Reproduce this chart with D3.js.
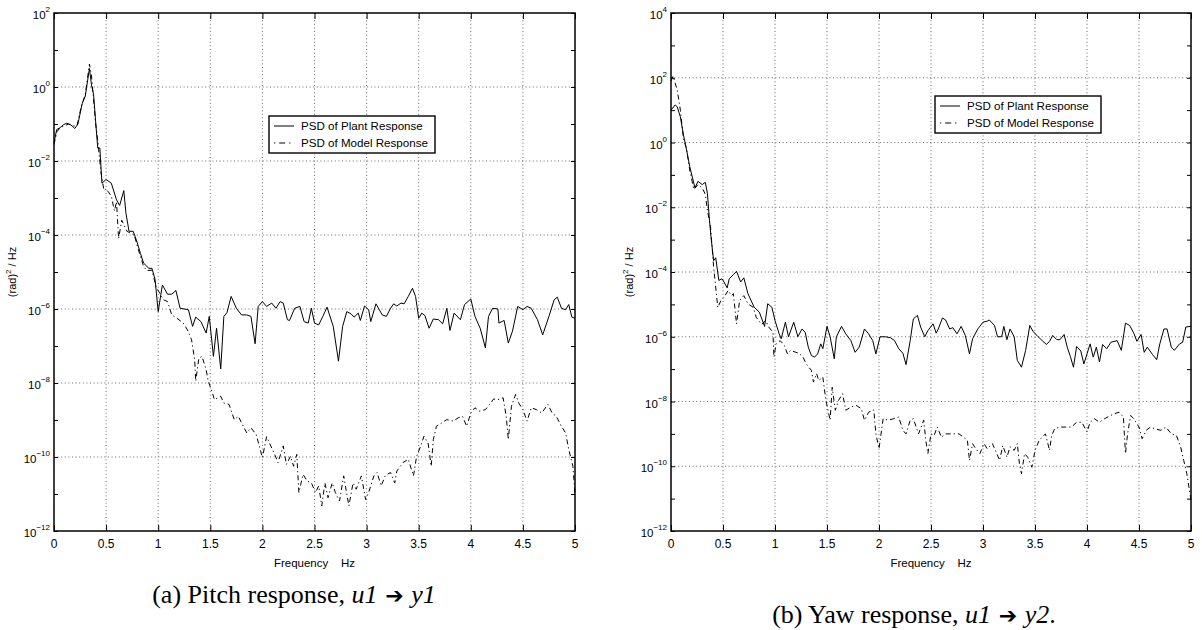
<!DOCTYPE html>
<html>
<head>
<meta charset="utf-8">
<script src="https://cdn.jsdelivr.net/npm/d3@7"></script>
<style>
  body { margin: 0; background: #fff; }
  svg text { font-family: "Liberation Sans", Arial, sans-serif; fill: #000; }
  .cap { font-family: "Liberation Serif", "Times New Roman", serif; }
</style>
</head>
<body>
<svg id="fig" width="1202" height="630"></svg>
<script>
// values, stored as [frequency Hz, log10 of PSD]
const pitchPlant = [[0,-1.5],[0.026,-1.15],[0.058,-1.1],[0.09,-1.02],[0.12,-0.98],[0.16,-1.02],[0.2,-1.12],[0.23,-1.0],[0.27,-0.45],[0.3,-0.25],[0.34,0.5],[0.36,0.05],[0.38,-0.2],[0.4,-0.95],[0.42,-1.65],[0.44,-1.65],[0.46,-2.6],[0.5,-2.5],[0.55,-2.6],[0.6,-3.05],[0.63,-3.2],[0.67,-2.8],[0.69,-3.4],[0.72,-3.9],[0.76,-3.9],[0.79,-4.13],[0.83,-4.5],[0.86,-4.76],[0.91,-4.9],[0.94,-4.9],[0.97,-5.2],[1.0,-6.07],[1.04,-5.35],[1.09,-5.6],[1.13,-5.6],[1.17,-5.5],[1.21,-5.98],[1.25,-6.0],[1.29,-6.02],[1.33,-6.47],[1.36,-6.22],[1.41,-6.34],[1.46,-6.65],[1.49,-6.2],[1.53,-7.28],[1.56,-6.52],[1.6,-7.62],[1.63,-6.2],[1.66,-6.1],[1.7,-5.66],[1.75,-5.98],[1.8,-6.16],[1.85,-6.16],[1.89,-6.2],[1.93,-6.94],[1.96,-5.93],[2.0,-5.8],[2.04,-5.93],[2.09,-5.84],[2.13,-5.98],[2.17,-5.8],[2.2,-5.84],[2.24,-6.29],[2.26,-6.31],[2.31,-5.98],[2.36,-5.93],[2.4,-6.34],[2.44,-6.38],[2.47,-5.98],[2.5,-6.38],[2.54,-6.43],[2.58,-6.2],[2.62,-5.95],[2.68,-6.47],[2.73,-7.41],[2.77,-6.47],[2.81,-6.07],[2.85,-6.13],[2.88,-6.22],[2.92,-6.11],[2.94,-6.31],[2.98,-5.92],[3.02,-6.02],[3.04,-6.34],[3.09,-5.86],[3.15,-6.16],[3.19,-6.2],[3.23,-5.98],[3.26,-5.86],[3.29,-5.92],[3.33,-5.84],[3.36,-5.86],[3.4,-5.66],[3.44,-5.44],[3.47,-5.66],[3.5,-6.25],[3.53,-6.11],[3.56,-6.18],[3.6,-6.52],[3.64,-6.27],[3.69,-6.29],[3.73,-6.4],[3.77,-5.98],[3.8,-6.58],[3.84,-6.11],[3.9,-6.29],[3.94,-5.88],[4.0,-5.73],[4.04,-6.2],[4.09,-6.52],[4.14,-7.05],[4.17,-6.2],[4.21,-5.98],[4.26,-6.0],[4.27,-6.38],[4.32,-6.31],[4.36,-6.92],[4.4,-6.6],[4.45,-5.93],[4.5,-6.02],[4.54,-5.93],[4.58,-5.98],[4.64,-6.29],[4.69,-6.7],[4.75,-6.2],[4.8,-5.75],[4.83,-5.68],[4.87,-5.98],[4.91,-6.02],[4.94,-5.88],[4.97,-6.22],[5.0,-6.25]];

const pitchModel = [[0,-1.55],[0.03,-1.2],[0.06,-1.1],[0.1,-1.05],[0.14,-1.0],[0.18,-1.05],[0.22,-1.05],[0.26,-0.55],[0.3,-0.2],[0.34,0.62],[0.36,0.3],[0.38,-0.35],[0.4,-1.0],[0.42,-1.45],[0.45,-2.3],[0.48,-2.8],[0.5,-2.75],[0.55,-2.95],[0.58,-3.35],[0.6,-3.1],[0.62,-4.1],[0.65,-3.6],[0.7,-3.9],[0.77,-4.0],[0.81,-4.4],[0.86,-4.85],[0.89,-4.96],[0.94,-4.95],[0.98,-5.4],[1.05,-5.75],[1.09,-5.8],[1.13,-6.16],[1.18,-6.25],[1.24,-6.38],[1.28,-6.56],[1.32,-6.83],[1.35,-7.37],[1.36,-7.95],[1.39,-7.33],[1.42,-7.28],[1.46,-7.64],[1.48,-7.95],[1.51,-8.18],[1.54,-8.45],[1.6,-8.36],[1.63,-8.54],[1.68,-8.58],[1.73,-8.99],[1.77,-8.9],[1.8,-9.08],[1.85,-9.35],[1.89,-9.21],[1.94,-9.39],[1.97,-9.7],[2.0,-10.02],[2.04,-9.45],[2.08,-9.7],[2.11,-9.88],[2.15,-10.15],[2.2,-9.7],[2.23,-10.2],[2.27,-9.98],[2.3,-10.25],[2.33,-9.93],[2.35,-10.96],[2.39,-10.47],[2.43,-10.65],[2.47,-10.7],[2.51,-10.96],[2.54,-10.78],[2.57,-11.32],[2.6,-10.7],[2.63,-11.1],[2.67,-10.7],[2.7,-10.96],[2.74,-11.19],[2.78,-10.51],[2.81,-11.0],[2.83,-11.32],[2.87,-10.7],[2.9,-10.87],[2.95,-10.51],[2.99,-11.15],[3.02,-10.96],[3.07,-10.51],[3.1,-10.42],[3.14,-10.78],[3.18,-10.5],[3.23,-10.42],[3.27,-10.7],[3.29,-10.38],[3.35,-10.15],[3.4,-10.06],[3.45,-10.51],[3.48,-9.98],[3.52,-9.7],[3.55,-9.44],[3.59,-9.62],[3.62,-10.25],[3.64,-9.53],[3.67,-9.17],[3.72,-9.08],[3.77,-8.99],[3.83,-9.03],[3.88,-8.94],[3.92,-8.9],[3.96,-9.17],[4.0,-8.81],[4.04,-8.67],[4.08,-8.76],[4.14,-8.72],[4.18,-8.58],[4.22,-8.43],[4.26,-8.45],[4.31,-8.4],[4.34,-8.9],[4.36,-9.53],[4.39,-8.63],[4.43,-8.31],[4.46,-8.54],[4.5,-8.72],[4.54,-9.03],[4.58,-8.67],[4.63,-8.72],[4.68,-8.81],[4.74,-8.58],[4.78,-8.81],[4.82,-8.9],[4.87,-9.17],[4.91,-9.35],[4.94,-9.8],[4.98,-10.25],[5.0,-11.0]];

const yawPlant = [[0,1.0],[0.04,1.16],[0.06,1.1],[0.09,0.79],[0.12,0.23],[0.14,-0.07],[0.18,-0.74],[0.23,-1.4],[0.26,-1.2],[0.3,-1.3],[0.33,-1.23],[0.35,-1.57],[0.37,-2.4],[0.385,-2.93],[0.41,-3.65],[0.43,-3.56],[0.46,-4.26],[0.49,-4.21],[0.51,-4.31],[0.54,-4.49],[0.56,-4.21],[0.6,-4.08],[0.63,-3.98],[0.67,-4.31],[0.7,-4.18],[0.74,-4.67],[0.8,-5.09],[0.85,-5.24],[0.87,-5.42],[0.9,-5.68],[0.93,-4.98],[0.97,-5.09],[1.0,-5.5],[1.04,-5.91],[1.06,-6.06],[1.1,-5.55],[1.13,-6.0],[1.18,-5.55],[1.22,-6.0],[1.26,-5.76],[1.29,-5.86],[1.32,-6.32],[1.35,-6.58],[1.38,-6.63],[1.41,-6.53],[1.44,-6.22],[1.46,-6.37],[1.5,-5.68],[1.53,-6.0],[1.57,-6.68],[1.59,-6.0],[1.64,-5.68],[1.68,-5.91],[1.73,-6.12],[1.77,-6.48],[1.81,-6.32],[1.86,-5.76],[1.9,-5.91],[1.94,-6.12],[1.97,-6.53],[2.01,-6.0],[2.06,-6.0],[2.11,-6.03],[2.15,-6.12],[2.19,-6.37],[2.23,-6.51],[2.26,-6.86],[2.3,-6.12],[2.33,-5.45],[2.37,-5.34],[2.4,-5.7],[2.44,-6.0],[2.47,-5.81],[2.52,-5.6],[2.55,-5.89],[2.57,-5.76],[2.61,-5.42],[2.64,-5.48],[2.68,-5.76],[2.71,-5.72],[2.75,-5.91],[2.79,-5.68],[2.83,-5.96],[2.87,-6.53],[2.9,-6.06],[2.95,-5.76],[3.0,-5.55],[3.04,-5.52],[3.06,-5.48],[3.11,-5.65],[3.14,-6.0],[3.18,-6.0],[3.2,-5.68],[3.23,-6.09],[3.26,-5.76],[3.3,-6.0],[3.33,-6.73],[3.37,-6.94],[3.41,-6.42],[3.45,-5.65],[3.48,-5.83],[3.53,-6.0],[3.57,-6.12],[3.61,-6.24],[3.64,-6.14],[3.67,-5.96],[3.71,-6.09],[3.74,-6.09],[3.78,-5.93],[3.81,-6.32],[3.84,-6.61],[3.87,-6.94],[3.9,-6.3],[3.94,-6.44],[3.97,-6.84],[4.0,-6.53],[4.03,-6.22],[4.06,-6.63],[4.09,-6.32],[4.12,-6.78],[4.15,-6.24],[4.19,-6.37],[4.23,-6.17],[4.29,-6.12],[4.33,-6.42],[4.37,-5.58],[4.41,-5.65],[4.45,-5.89],[4.48,-6.14],[4.52,-5.93],[4.55,-6.48],[4.58,-6.32],[4.63,-6.55],[4.67,-6.71],[4.7,-6.22],[4.74,-5.76],[4.77,-5.76],[4.81,-6.32],[4.84,-6.42],[4.89,-6.22],[4.92,-6.17],[4.95,-5.7],[5.0,-5.68]];

const yawModel = [[0,1.9],[0.02,2.05],[0.06,1.62],[0.09,1.0],[0.12,0.1],[0.15,-0.2],[0.18,-0.85],[0.22,-1.45],[0.26,-1.3],[0.3,-1.4],[0.33,-1.6],[0.35,-2.1],[0.38,-2.6],[0.41,-3.85],[0.45,-5.1],[0.48,-4.88],[0.51,-4.78],[0.55,-4.57],[0.58,-4.73],[0.6,-4.67],[0.63,-5.6],[0.66,-4.88],[0.7,-4.73],[0.74,-4.98],[0.79,-5.09],[0.82,-5.4],[0.87,-5.62],[0.91,-5.5],[0.94,-5.7],[0.98,-5.86],[0.99,-6.63],[1.01,-6.22],[1.05,-6.12],[1.09,-6.27],[1.12,-6.53],[1.15,-6.42],[1.2,-6.48],[1.23,-6.51],[1.27,-6.63],[1.3,-6.84],[1.35,-7.04],[1.37,-7.4],[1.4,-7.14],[1.42,-7.35],[1.46,-7.25],[1.49,-7.97],[1.53,-8.58],[1.55,-7.56],[1.58,-8.27],[1.61,-7.97],[1.65,-7.76],[1.68,-8.27],[1.73,-8.17],[1.78,-8.12],[1.83,-8.22],[1.86,-8.58],[1.9,-8.33],[1.95,-8.26],[1.97,-9.0],[2.0,-9.46],[2.04,-8.53],[2.09,-8.58],[2.14,-8.53],[2.19,-8.48],[2.23,-8.89],[2.26,-9.0],[2.3,-8.58],[2.33,-8.53],[2.38,-9.0],[2.43,-8.58],[2.45,-9.2],[2.47,-9.61],[2.5,-9.0],[2.53,-9.05],[2.56,-8.79],[2.6,-9.1],[2.64,-9.0],[2.68,-9.0],[2.73,-9.0],[2.77,-9.0],[2.81,-9.1],[2.85,-9.2],[2.87,-9.82],[2.9,-9.3],[2.93,-9.46],[2.97,-9.61],[3.01,-9.3],[3.04,-9.46],[3.09,-9.3],[3.12,-9.51],[3.16,-9.82],[3.19,-9.36],[3.23,-9.72],[3.26,-9.4],[3.3,-9.51],[3.33,-9.3],[3.35,-9.92],[3.37,-10.23],[3.4,-9.61],[3.43,-9.72],[3.47,-10.03],[3.5,-9.51],[3.54,-9.2],[3.57,-9.1],[3.6,-9.0],[3.64,-9.51],[3.66,-9.05],[3.69,-8.84],[3.74,-8.79],[3.79,-8.79],[3.85,-8.79],[3.9,-8.64],[3.95,-8.64],[4.0,-8.94],[4.03,-8.64],[4.07,-8.53],[4.12,-8.64],[4.17,-8.53],[4.21,-8.46],[4.26,-8.38],[4.31,-8.33],[4.35,-8.48],[4.37,-9.61],[4.39,-9.0],[4.42,-8.43],[4.46,-8.58],[4.5,-8.79],[4.53,-9.15],[4.57,-8.89],[4.61,-8.79],[4.65,-8.84],[4.71,-8.89],[4.76,-8.79],[4.81,-9.0],[4.86,-9.05],[4.9,-9.4],[4.93,-9.82],[4.96,-10.23],[4.99,-10.85],[5.0,-11.05]];

const freqTicks = [0, 0.5, 1, 1.5, 2, 2.5, 3, 3.5, 4, 4.5, 5];
const freqLabels = ["0", "0.5", "1", "1.5", "2", "2.5", "3", "3.5", "4", "4.5", "5"];
const pitchDecades = [-12, -11, -10, -9, -8, -7, -6, -5, -4, -3, -2, -1, 0, 1, 2];
const pitchLabelled = [-12, -10, -8, -6, -4, -2, 0, 2];
const yawDecades = [-12, -11, -10, -9, -8, -7, -6, -5, -4, -3, -2, -1, 0, 1, 2, 3, 4];
const yawLabelled = [-12, -10, -8, -6, -4, -2, 0, 2, 4];
const legendNames = ["PSD of Plant Response", "PSD of Model Response"];

const svg = d3.select("#fig");
const TOP = 13, BOTTOM = 531;

function panel(o) {
  const g = svg.append("g");
  const x = d3.scaleLinear().domain([0, 5]).range([o.left, o.right]);
  const y = d3.scaleLog().domain([Math.pow(10, o.decades[0]), Math.pow(10, o.decades[o.decades.length - 1])]).range([BOTTOM, TOP]);

  // dotted grid
  const grid = g.append("g").attr("stroke", "#222").attr("stroke-width", 0.9)
    .attr("stroke-dasharray", "1,2.6").attr("opacity", 0.75);
  grid.selectAll(".gv").data(freqTicks.slice(1, -1)).join("line")
    .attr("x1", d => x(d)).attr("x2", d => x(d)).attr("y1", TOP).attr("y2", BOTTOM);
  grid.selectAll(".gh").data(o.labelled.slice(1, -1)).join("line")
    .attr("y1", d => y(Math.pow(10, d))).attr("y2", d => y(Math.pow(10, d)))
    .attr("x1", o.left).attr("x2", o.right);

  // curves
  const line = d3.line().x(d => x(d[0])).y(d => y(Math.pow(10, d[1])));
  g.append("path").datum(o.model).attr("d", line).attr("fill", "none")
    .attr("stroke", "#000").attr("stroke-width", 1).attr("stroke-dasharray", "5,3,1.2,3");
  g.append("path").datum(o.plant).attr("d", line).attr("fill", "none")
    .attr("stroke", "#000").attr("stroke-width", 1);

  // axes with inward ticks
  const fmt = () => "";
  g.append("g").attr("transform", `translate(0,${BOTTOM})`)
    .call(d3.axisBottom(x).tickValues(freqTicks).tickSize(-6).tickSizeOuter(0).tickFormat(fmt));
  g.append("g").attr("transform", `translate(0,${TOP})`)
    .call(d3.axisTop(x).tickValues(freqTicks).tickSize(-6).tickSizeOuter(0).tickFormat(fmt));
  const dec = o.decades.map(d => Math.pow(10, d));
  g.append("g").attr("transform", `translate(${o.left},0)`)
    .call(d3.axisLeft(y).tickValues(dec).tickSize(-4).tickSizeOuter(0).tickFormat(fmt));
  g.append("g").attr("transform", `translate(${o.right},0)`)
    .call(d3.axisRight(y).tickValues(dec).tickSize(-4).tickSizeOuter(0).tickFormat(fmt));
  g.selectAll(".domain").remove();
  g.selectAll(".tick line").attr("stroke", "#000").attr("stroke-width", 1);

  g.append("rect").attr("x", o.left).attr("y", TOP)
    .attr("width", o.right - o.left).attr("height", BOTTOM - TOP)
    .attr("fill", "none").attr("stroke", "#000").attr("stroke-width", 1.5);

  // x tick labels
  g.selectAll(".xl").data(freqTicks).join("text")
    .attr("x", d => x(d)).attr("y", 548).attr("text-anchor", "middle")
    .attr("font-size", 12).text((d, i) => freqLabels[i]);

  // y tick labels 10^n
  const yl = g.selectAll(".yl").data(o.labelled).join("text")
    .attr("x", o.left - 4).attr("y", d => y(Math.pow(10, d)) + 6)
    .attr("text-anchor", "end").attr("font-size", 11.5);
  yl.append("tspan").text("10");
  yl.append("tspan").attr("dy", -7).attr("font-size", 8)
    .text(d => String(d).replace("-", "\u2212"));

  // axis titles
  g.append("text").attr("x", (o.left + o.right) / 2).attr("y", 567)
    .attr("text-anchor", "middle").attr("font-size", 11.5).style("white-space", "pre")
    .text("Frequency    Hz");
  const yt = g.append("text")
    .attr("transform", `translate(${o.ylabelX},${(TOP + BOTTOM) / 2}) rotate(-90)`)
    .attr("text-anchor", "middle").attr("font-size", 11);
  yt.append("tspan").text("(rad)");
  yt.append("tspan").attr("dy", -5).attr("font-size", 8).text("2");
  yt.append("tspan").attr("dy", 5).text(" / Hz");

  // legend
  const lg = g.append("g").attr("transform", `translate(${o.legX},${o.legY})`);
  lg.append("rect").attr("width", 166).attr("height", 37)
    .attr("fill", "#fff").attr("stroke", "#000").attr("stroke-width", 1.4);
  lg.selectAll(".ls").data(legendNames).join("line")
    .attr("x1", 5).attr("x2", 25).attr("y1", (d, i) => 10 + i * 17).attr("y2", (d, i) => 10 + i * 17)
    .attr("stroke", "#000").attr("stroke-width", 1)
    .attr("stroke-dasharray", (d, i) => i ? "1.2,4,6,4,1.2,6" : null);
  lg.selectAll(".lt").data(legendNames).join("text")
    .attr("x", 32).attr("y", (d, i) => 14 + i * 17).attr("font-size", 11.6).text(d => d);

  // caption
  const c = g.append("text").attr("class", "cap").attr("x", o.capX).attr("y", o.capY)
    .attr("text-anchor", "middle").attr("font-size", 26).style("white-space", "pre");
  c.append("tspan").text(o.capLead);
  c.append("tspan").attr("font-style", "italic").text("u1");
  c.append("tspan").attr("font-family", "DejaVu Sans").attr("font-weight", "bold").attr("font-size", 22).text(" \u2794 ");
  c.append("tspan").attr("font-style", "italic").text(o.capOut);
  if (o.capTail) c.append("tspan").text(o.capTail);
}

panel({
  left: 54, right: 575, decades: pitchDecades, labelled: pitchLabelled,
  plant: pitchPlant, model: pitchModel, ylabelX: 16,
  legX: 269, legY: 116,
  capX: 294, capY: 603, capLead: "(a) Pitch response, ", capOut: "y1", capTail: ""
});
panel({
  left: 671, right: 1191, decades: yawDecades, labelled: yawLabelled,
  plant: yawPlant, model: yawModel, ylabelX: 633,
  legX: 935, legY: 96,
  capX: 914, capY: 623, capLead: "(b) Yaw response, ", capOut: "y2", capTail: "."
});
</script>
</body>
</html>
